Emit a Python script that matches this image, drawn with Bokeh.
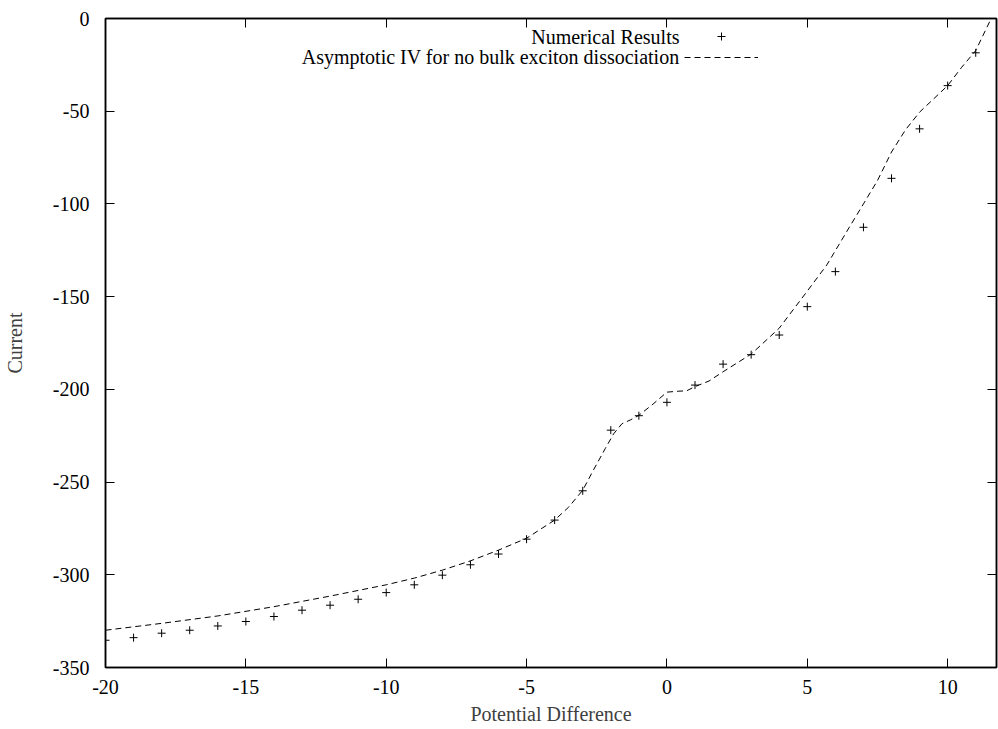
from bokeh.plotting import figure
from bokeh.models import (Range1d, LinearAxis, FixedTicker, Legend, LegendItem,
                          Label, CustomJSTickFormatter, PrintfTickFormatter)
from bokeh.embed import file_html
from bokeh.resources import INLINE

# ---- data ----
volt = [-20, -19, -18, -17, -16, -15, -14, -13, -12, -11, -10, -9, -8, -7, -6, -5,
        -4, -3, -2, -1, 0, 1, 2, 3, 4, 5, 6, 7, 8, 9, 10, 11]
current = [-335.3, -333.9, -331.5, -329.9, -327.6, -325.2, -322.5, -319.1, -316.4,
           -313.2, -309.6, -305.4, -300.2, -294.6, -288.8, -280.8, -270.5, -254.7,
           -222.0, -214.2, -207.0, -197.7, -186.4, -181.3, -170.7, -155.4, -136.5,
           -112.6, -86.2, -59.5, -36.2, -18.5]

asym_v = [-20, -18, -16, -14, -12, -10, -9, -8, -7, -6, -5, -4, -3.5, -3, -2.6, -2.2,
          -1.9, -1.6, -1.3, -1, -0.5, 0, 0.4, 0.7, 1, 1.5, 2, 3, 4, 5, 5.7, 6.5, 7,
          7.5, 8, 8.5, 9, 10, 10.5, 11, 11.55]
asym_i = [-329.9, -326.2, -322.2, -317.2, -311.5, -305.4, -301.8, -297.5, -292.5,
          -286.7, -280.3, -270.5, -263.5, -254.4, -243.0, -232.0, -224.0, -218.5,
          -216.5, -214.0, -208.0, -201.5, -201.0, -200.8, -198.5, -195.5, -190.5,
          -181.0, -167.0, -147.0, -132.8, -112.5, -100.0, -87.4, -72.0, -60.0, -50.5,
          -36.2, -26.3, -17.3, 0.0]

x_ticks = [-20, -15, -10, -5, 0, 5, 10]
y_ticks = [0, -50, -100, -150, -200, -250, -300, -350]

series_names = ["Numerical Results", "Asymptotic IV for no bulk exciton dissociation"]
x_title = "Potential Difference"
y_title = "Current"

FONT = "Liberation Serif"
FS = "20px"

p = figure(width=998, height=729, output_backend="svg", toolbar_location=None,
           x_range=Range1d(-20, 11.74), y_range=Range1d(-350, 0),
           min_border_left=103, min_border_top=18, min_border_right=2,
           min_border_bottom=62)
p.background_fill_color = "white"
p.border_fill_color = "white"
p.grid.visible = False
p.outline_line_color = "black"
p.outline_line_width = 1.5

pts = p.scatter(volt, current, marker="cross", size=8, line_color="black",
                line_width=1)
ln = p.line(asym_v, asym_i, line_color="black", line_width=1, line_dash="6 4")

def style_axis(ax, ticks, labels=True):
    ax.ticker = FixedTicker(ticks=ticks)
    ax.major_tick_in = 9
    ax.major_tick_out = 0
    ax.minor_tick_line_color = None
    ax.axis_line_color = "black"
    ax.axis_line_width = 1.5
    ax.major_tick_line_color = "black"
    ax.major_tick_line_width = 1
    ax.major_label_text_font = FONT
    ax.major_label_text_color = "black"
    if labels:
        ax.major_label_text_font_size = FS
        ax.formatter = PrintfTickFormatter(format="%d")
    else:
        ax.formatter = CustomJSTickFormatter(code="return ''")
        ax.major_label_text_font_size = "1px"
        ax.major_label_standoff = 0

xa = p.xaxis[0]
style_axis(xa, x_ticks)
xa.major_label_standoff = 12
xa.axis_label = x_title
xa.axis_label_text_font = FONT
xa.axis_label_text_font_size = FS
xa.axis_label_text_font_style = "normal"
xa.axis_label_text_color = "#404040"
xa.axis_label_standoff = 6

ya = p.yaxis[0]
style_axis(ya, y_ticks)
ya.major_label_standoff = 16
ya.axis_label = y_title
ya.axis_label_text_font = FONT
ya.axis_label_text_font_size = FS
ya.axis_label_text_font_style = "normal"
ya.axis_label_text_color = "#404040"
ya.axis_label_standoff = 24

top = LinearAxis()
style_axis(top, x_ticks, labels=False)
p.add_layout(top, "above")
right = LinearAxis()
style_axis(right, y_ticks, labels=False)
p.add_layout(right, "right")

# legend: samples from the renderers, text right-aligned to their left
leg = Legend(items=[LegendItem(label="", renderers=[pts]),
                    LegendItem(label="", renderers=[ln])],
             location=(579, 600), orientation="vertical",
             glyph_width=74, glyph_height=20, spacing=1, padding=0, margin=0,
             label_standoff=0, label_width=0, label_height=20,
             label_text_font_size="1px",
             background_fill_alpha=0, border_line_alpha=0)
p.add_layout(leg, "center")

for i, name in enumerate(series_names):
    p.add_layout(Label(x=574, y=631 - 20 * i, x_units="screen", y_units="screen",
                       text=name, text_align="right", text_baseline="middle",
                       text_font=FONT, text_font_size=FS, text_color="black"))

open("out.html", "w").write(file_html(p, INLINE))
